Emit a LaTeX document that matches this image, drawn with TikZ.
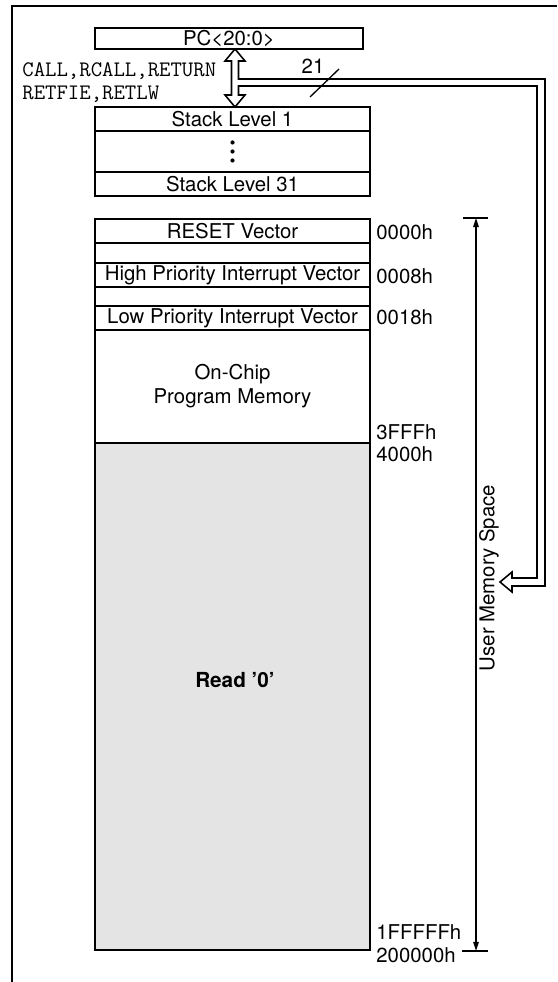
\documentclass[tikz,border=0pt]{standalone}
\usepackage{fontspec}
\setmainfont{TeX Gyre Heros}
\usepackage{tikz}
\usetikzlibrary{arrows.meta,positioning,calc}
\definecolor{stipple}{HTML}{E4E4E4}
\tikzset{
  mem/.style={draw,line width=1.1pt,minimum width=5.5cm,minimum height=#1,inner sep=0pt,align=center,
    font=\fontsize{11.6}{13.6}\selectfont},
  mem/.default=0.48cm,
  addr/.style={anchor=west,inner sep=0pt,font=\fontsize{11.6}{13.6}\selectfont},
  opcode/.style={anchor=west,inner sep=0pt,font=\fontsize{12.6}{14}\selectfont\ttfamily},
  bus/.style={draw,fill=white,line width=0.9pt,line join=miter},
  extent/.style={{Triangle[length=1.8mm,width=1.1mm]}-{Triangle[length=1.8mm,width=1.1mm]},line width=0.75pt},
}

\begin{document}
\begin{tikzpicture}[x=0.02cm,y=-0.02cm]
  \useasboundingbox (0,0) rectangle (557,982);
  \draw[line width=1.1pt] (12,982) -- (12,6) -- (557,6);
  % program counter and return stack
  \node[mem=0.42cm,minimum width=5.36cm] (pc) at (229,38.5) {PC<20:0>};
  \node[mem] (sl1) at (232.5,119) {Stack Level 1};
  \node[mem=0.82cm] (dots) at (232.5,151.5) {};
  \node[mem] (sl31) at (232.5,184) {Stack Level 31};
  \foreach \dy in {-9,0,9}
    \fill ($(dots.center)+(0,\dy)$) circle (2.1);
  \node[opcode] (calls) at (22,71) {CALL,RCALL,RETURN};
  \node[opcode] (rets) at (22,94) {RETFIE,RETLW};
  % memory map
  \node[mem] (reset) at (232.5,231) {RESET Vector};
  \node[mem=0.40cm] (gap1) at (232.5,253) {};
  \node[mem] (hipri) at (232.5,275) {High Priority Interrupt Vector};
  \node[mem=0.38cm] (gap2) at (232.5,296.5) {};
  \node[mem] (lopri) at (232.5,318) {Low Priority Interrupt Vector};
  \node[mem=2.26cm] (onchip) at (232.5,386.5) {On-Chip\\Program Memory};
  \node[mem=10.14cm,fill=stipple] (read0) at (232.5,696.5) {};
  \node[font=\fontsize{11.8}{14}\selectfont\bfseries] (read0txt) at (235,680) {Read '0'};
  \foreach \y/\t in {232/0000h,276/0008h,317/0018h,432/3FFFh,454/4000h,932/1FFFFFh,955/200000h}
    \node[addr] (addr\y) at (376,\y) {\t};
  % 21-bit bus between PC, stack and memory
  \draw[bus] (235,49) -- ++(10,12) -- ++(-6.5,0) -- (238.5,79) -- (545,79) -- (545,586)
    -- (512,586) -- ++(0,6) -- (500,582) -- (512,572) -- ++(0,6) -- (537,578) -- (537,86)
    -- (238.5,86) -- (238.5,95) -- ++(6.5,0) -- (235,107) -- (225,95) -- ++(6.5,0)
    -- (231.5,61) -- ++(-6.5,0) -- cycle;
  \node[font=\fontsize{11.6}{13.6}\selectfont] (buswidth) at (313,66) {21};
  \draw[line width=0.75pt] (310,97) -- (339,69);
  % user memory space
  \coordinate (umx) at (476,0);
  \coordinate (umtop) at (umx |- reset.north);
  \coordinate (umbot) at (umx |- read0.south);
  \draw[extent] (umtop) -- (umbot);
  \draw[line width=0.75pt] ($(umtop)+(-13,0)$) -- ++(25,0);
  \draw[line width=0.75pt] ($(umbot)+(-14,0)$) -- ++(26,0);
  \node[rotate=90,font=\fontsize{11.6}{13.6}\selectfont] (umspace) at (489,578) {User Memory Space};
\end{tikzpicture}
\end{document}
